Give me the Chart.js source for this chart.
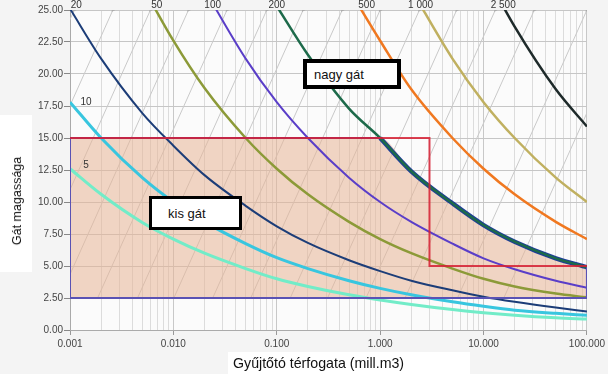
<!DOCTYPE html>
<html>
<head>
<meta charset="utf-8">
<script src="https://cdn.jsdelivr.net/npm/chart.js@4.4.1/dist/chart.umd.min.js"></script>
<style>
  html, body { margin: 0; padding: 0; background: #f4f4f4; }
  #wrap { position: relative; width: 608px; height: 374px; overflow: hidden; font-family: "Liberation Sans", Arial, sans-serif; }
  #chart { position: absolute; left: 0; top: 0; }
  .patch { position: absolute; background: #fff; }
  .ytitle { position: absolute; left: 17px; top: 201px; transform: translate(-50%, -50%) rotate(-90deg); font-size: 12.5px; color: #111; white-space: nowrap; }
  .xtitle { position: absolute; left: 233px; top: 355px; font-size: 14.2px; color: #111; white-space: nowrap; }
  .box { position: absolute; box-sizing: border-box; background: #fff; border: 4px solid #000; font-size: 13px; color: #111; display: flex; align-items: center; }
</style>
</head>
<body>
<div id="wrap">
  <div class="patch" style="left:0;top:115px;width:32px;height:157px"></div>
  <div class="patch" style="left:228px;top:352px;width:242px;height:22px"></div>
  <canvas id="chart" width="608" height="374"></canvas>
  <div class="ytitle">Gát magassága</div>
  <div class="xtitle">Gyűjtőtó térfogata (mill.m3)</div>
  <div class="box" style="left:303px;top:59px;width:98px;height:30px;padding-left:7px">nagy gát</div>
  <div class="box" style="left:149px;top:196px;width:93px;height:34px;border-width:3.5px;padding-left:16px">kis gát</div>
</div>
<script>
// ================================
// Data
// ================================

// volume (mill. m3) positions where the curves were read
const volumes = [0.001, 0.002, 0.005, 0.01, 0.02, 0.05, 0.1, 0.2, 0.5, 1, 2, 5, 10, 20, 50, 100]

// dam height along each curve (null = above the chart)
const h5    = [12.6, 10.6, 8.4, 7.1, 6.0, 4.8, 4.0, 3.4, 2.75, 2.35, 2.0, 1.6, 1.35, 1.15, 0.95, 0.85]
const h10   = [17.8, 15.0, 11.9, 10.0, 8.45, 6.75, 5.65, 4.8, 3.85, 3.25, 2.75, 2.2, 1.85, 1.55, 1.3, 1.15]
const h20   = [25.1, 21.2, 16.95, 14.4, 12.1, 9.7, 8.1, 6.8, 5.45, 4.6, 3.85, 3.1, 2.6, 2.2, 1.75, 1.45]
const h50   = [null, null, 26.9, 22.6, 18.9, 15.0, 12.6, 10.6, 8.45, 7.1, 6.0, 4.8, 4.0, 3.4, 2.85, 2.55]
const h100  = [null, null, null, null, 26.6, 21.2, 17.8, 15.0, 11.9, 10.0, 8.45, 6.75, 5.6, 4.75, 3.85, 3.3]
const h200  = [null, null, null, null, null, null, 25.3, 21.5, 17.3, 15.0, 12.4, 9.9, 8.2, 6.9, 5.6, 4.9]
const h500  = [null, null, null, null, null, null, null, null, 26.6, 22.6, 18.8, 15.0, 12.6, 10.6, 8.45, 7.1]
const h1000 = [null, null, null, null, null, null, null, null, null, null, 26.6, 21.2, 17.8, 15.0, 11.9, 10.0]
const h2500 = [null, null, null, null, null, null, null, null, null, null, null, null, 28.1, 23.7, 18.8, 15.9]

// curve labels
const curveNames = ["5", "10", "20", "50", "100", "200", "500", "1 000", "2 500"]
const topLabels = ["20", "50", "100", "200", "500", "1 000", "2 500"]
const topLabelV = [0.00115, 0.0069, 0.024, 0.1, 0.74, 2.46, 15.5]
const sideLabels = ["10", "5"]
const sideLabelV = [0.00125, 0.00125]
const sideLabelH = [17.8, 12.9]

// "nagy gát" red outline
const bigBoxV = [0.001, 3, 3, 100]
const bigBoxH = [15, 15, 5, 5]

// "kis gát" blue outline (upper right edge follows the 200 curve)
const smallBoxV = [100, 100, 0.001, 0.001, 1]
const smallBoxH = [4.9, 2.5, 2.5, 15, 15]
const fillBaseH = 2.5

// faint grey guide lines (top end at 25, bottom end at 2.5)
const guideTopV    = [0.0005, 0.0011, 0.0026, 0.006, 0.014, 0.033, 0.08, 0.18, 0.43, 1.0, 2.4, 5.5, 13, 31, 100, 280]
const guideBottomV = [0.000028, 0.000062, 0.000146, 0.00034, 0.00079, 0.00185, 0.0045, 0.0101, 0.024, 0.056, 0.135, 0.31, 0.73, 1.74, 5.6, 15.7]
const guideTopH = 25
const guideBottomH = 2.5

// axis ticks
const xTickValues = [0.001, 0.01, 0.1, 1, 10, 100]
const xTickLabels = ["0.001", "0.010", "0.100", "1.000", "10.000", "100.000"]

// ================================
// Build datasets
// ================================

const curveColors = ["#72ecc8", "#38c6df", "#1c3d78", "#8c9a38", "#5a3ec8", "#1d6a4a", "#f07820", "#c0b060", "#1e2a2a"]
const curveWidths = [3, 3, 2, 2.5, 2, 2.5, 2.5, 2.5, 2.5]
const curveData = [h5, h10, h20, h50, h100, h200, h500, h1000, h2500]

function toPoints(xs, ys) {
    return xs.map((x, i) => ({ x: x, y: ys[i] })).filter(p => p.y !== null)
}

let datasets = []

// grey guides
guideTopV.forEach((v, i) => {
    datasets.push({
        data: [{ x: guideBottomV[i], y: guideBottomH }, { x: v, y: guideTopH }],
        borderColor: "#c9c9c9",
        borderWidth: 1,
        pointRadius: [0, 2.2],
        pointStyle: "triangle",
        rotation: -25,
        pointBackgroundColor: "#aaaaaa",
        pointBorderWidth: 0,
        order: 20
    })
})

// shaded "kis gát" area
const edge = [{ x: volumes[0], y: 15 }].concat(toPoints(volumes, h200).filter(p => p.x >= 1))
datasets.push({
    data: edge,
    borderWidth: 0,
    backgroundColor: "rgba(232, 180, 150, 0.55)",
    fill: { value: fillBaseH },
    cubicInterpolationMode: "monotone",
    pointRadius: 0,
    order: 15
})

// thick blue edge under the 200 curve
datasets.push({
    data: toPoints(volumes, h200).filter(p => p.x >= 1),
    borderColor: "#1e3c9a",
    borderWidth: 4.5,
    cubicInterpolationMode: "monotone",
    pointRadius: 0,
    order: 6
})

// curves
curveData.forEach((h, i) => {
    datasets.push({
        label: curveNames[i],
        data: toPoints(volumes, h),
        borderColor: curveColors[i],
        borderWidth: curveWidths[i],
        cubicInterpolationMode: "monotone",
        pointRadius: 0,
        order: 5
    })
})

// blue outline
datasets.push({
    data: toPoints(smallBoxV, smallBoxH),
    borderColor: "#5a52b4",
    borderWidth: 2,
    pointRadius: 0,
    order: 3
})

// red outline
datasets.push({
    data: toPoints(bigBoxV, bigBoxH),
    borderColor: "rgba(214, 30, 50, 0.85)",
    borderWidth: 2,
    pointRadius: 0,
    order: 1
})

// ================================
// Plugins
// ================================

const plotBg = {
    id: "plotBg",
    beforeDraw(chart) {
        const { ctx, chartArea: a } = chart
        ctx.save()
        ctx.fillStyle = "#fbfbfb"
        ctx.fillRect(a.left, a.top, a.width, a.height)
        ctx.restore()
    }
}

const curveLabels = {
    id: "curveLabels",
    afterDraw(chart) {
        const { ctx, chartArea: a } = chart
        const xs = chart.scales.x
        const ys = chart.scales.y
        ctx.save()
        ctx.font = "10px 'Liberation Sans', Arial, sans-serif"
        ctx.fillStyle = "#333"
        ctx.textAlign = "center"
        ctx.textBaseline = "middle"
        topLabels.forEach((t, i) => {
            ctx.fillText(t, xs.getPixelForValue(topLabelV[i]), a.top - 5)
        })
        sideLabels.forEach((t, i) => {
            ctx.fillText(t, xs.getPixelForValue(sideLabelV[i]) + 6, ys.getPixelForValue(sideLabelH[i]))
        })
        ctx.restore()
    }
}

// ================================
// Chart
// ================================

Chart.defaults.font.family = "'Liberation Sans', Arial, sans-serif"
Chart.defaults.font.size = 10
Chart.defaults.color = "#444"

function isDecade(v) {
    return xTickValues.findIndex(d => Math.abs(Math.log10(v / d)) < 1e-6)
}

new Chart(document.getElementById("chart"), {
    type: "scatter",
    data: { datasets: datasets },
    plugins: [plotBg, curveLabels],
    options: {
        responsive: false,
        animation: false,
        showLine: true,
        layout: { padding: { left: 0, top: 10, right: 19, bottom: 0 } },
        plugins: {
            legend: { display: false },
            tooltip: { enabled: false }
        },
        scales: {
            x: {
                type: "logarithmic",
                min: 0.001,
                max: 100,
                afterFit: s => { s.height = 44 },
                afterBuildTicks: s => {
                    let t = []
                    xTickValues.slice(0, -1).forEach(d => {
                        for (let m = 1; m < 10; m++) t.push({ value: +(m * d).toPrecision(6) })
                    })
                    t.push({ value: xTickValues[xTickValues.length - 1] })
                    s.ticks = t
                },
                border: { color: "#aaaaaa" },
                grid: {
                    color: c => isDecade(c.tick.value) >= 0 ? "#c8c8c8" : "#dcdcdc",
                    tickLength: 5,
                    tickColor: c => isDecade(c.tick.value) >= 0 ? "#999" : "rgba(0,0,0,0)"
                },
                ticks: {
                    autoSkip: false,
                    maxRotation: 0,
                    padding: 3,
                    color: "#444",
                    callback: v => {
                        const i = isDecade(v)
                        return i >= 0 ? xTickLabels[i] : ""
                    }
                }
            },
            y: {
                min: 0,
                max: 25,
                afterFit: s => { s.width = 70 },
                border: { color: "#aaaaaa" },
                grid: { color: "#c6c6c6", tickLength: 6, tickColor: "#888" },
                ticks: {
                    stepSize: 2.5,
                    padding: 1,
                    color: "#444",
                    callback: v => v.toFixed(2)
                }
            }
        }
    }
})
</script>
</body>
</html>
